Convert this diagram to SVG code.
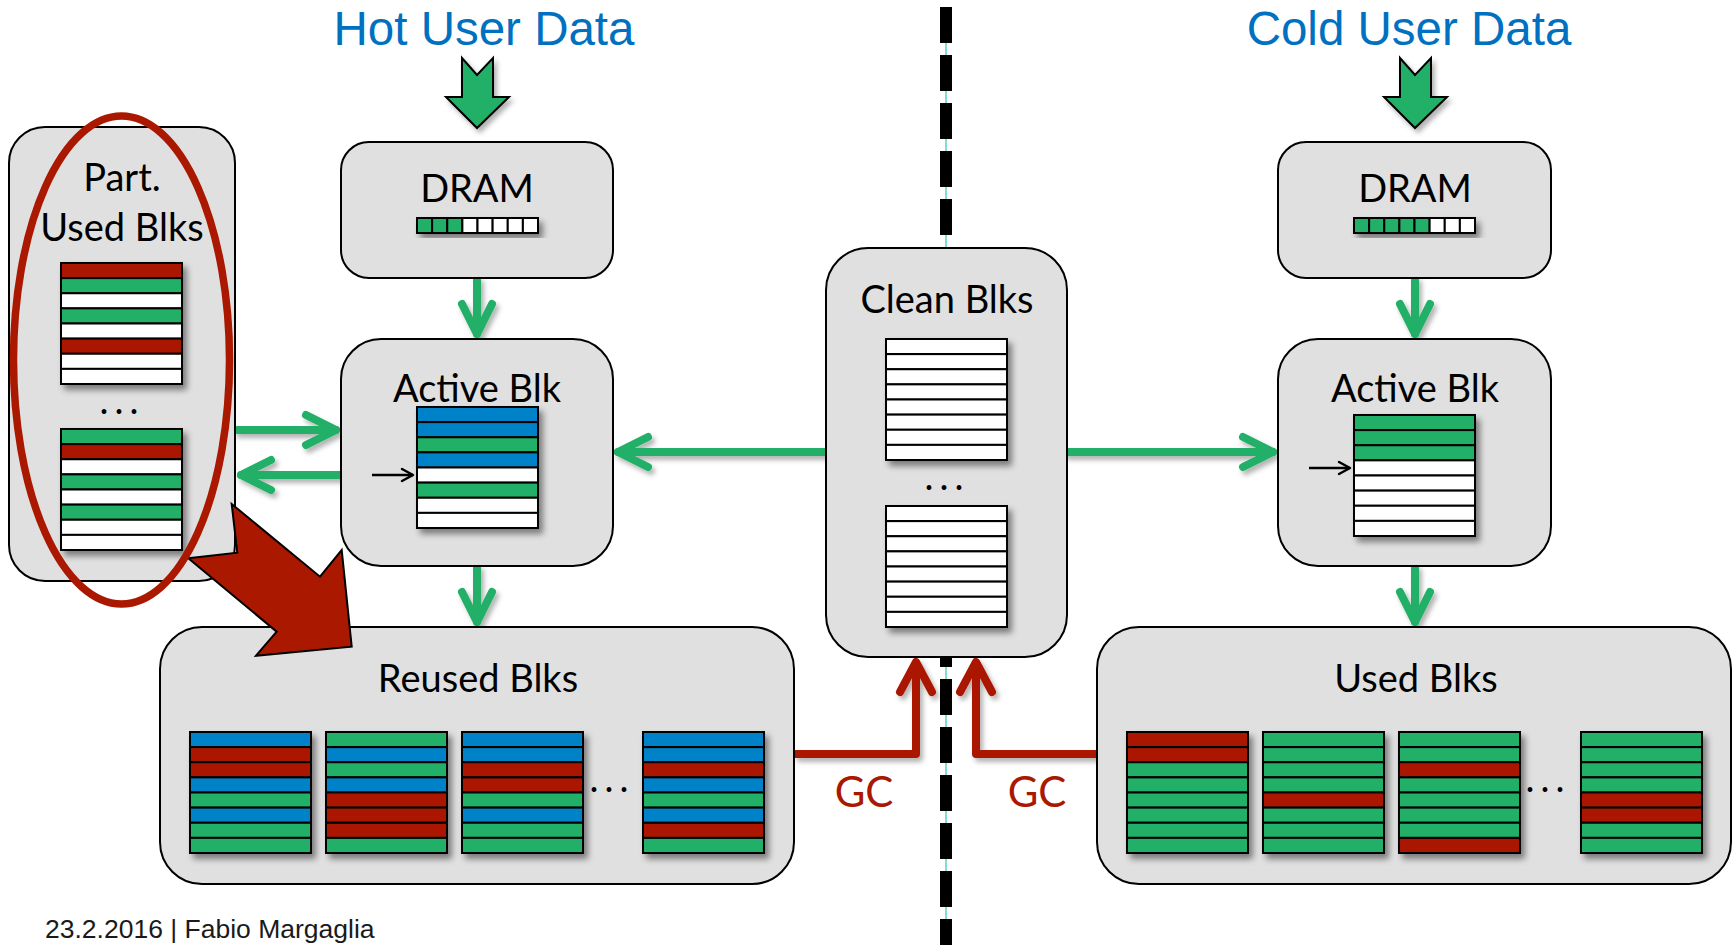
<svg xmlns="http://www.w3.org/2000/svg" width="1734" height="945" viewBox="0 0 1734 945">
<style>
.box{fill:#E0E0E0;stroke:#000;stroke-width:2}
.lbl{font-family:Lato,"Open Sans",sans-serif;font-size:38px;fill:#000;text-anchor:middle}
.ttl{font-family:"Liberation Sans",Arial,sans-serif;font-size:47.5px;fill:#0070C0;text-anchor:middle}
.gc{font-family:Lato,"Open Sans",sans-serif;font-size:42px;fill:#AA1800;text-anchor:middle}
.r{fill:#AA1800;stroke:#000;stroke-width:2}
.g{fill:#22B067;stroke:#000;stroke-width:2}
.b{fill:#0082C8;stroke:#000;stroke-width:2}
.w{fill:#FFFFFF;stroke:#000;stroke-width:2}
.gl{fill:none;stroke:#22B067;stroke-width:8;stroke-linecap:round}
.rl{fill:none;stroke:#AA1800;stroke-width:8;stroke-linejoin:round}
.ptr{fill:none;stroke:#000;stroke-width:2.5}
</style>
<defs>
<filter id="sh" x="-20%" y="-20%" width="150%" height="150%"><feDropShadow dx="4" dy="5" stdDeviation="3" flood-color="#000" flood-opacity="0.45"/></filter>
<filter id="ash" x="-20%" y="-20%" width="150%" height="150%"><feDropShadow dx="3" dy="4" stdDeviation="2.5" flood-color="#000" flood-opacity="0.3"/></filter>
<marker id="ga" markerUnits="userSpaceOnUse" viewBox="-40 -25 50 50" markerWidth="50" markerHeight="50" refX="0" refY="0" orient="auto" overflow="visible"><path d="M-30,-15 L0,0 L-30,15" fill="none" stroke="#22B067" stroke-width="8" stroke-linecap="round" stroke-linejoin="round"/></marker>
<marker id="ra" markerUnits="userSpaceOnUse" viewBox="-40 -25 50 50" markerWidth="50" markerHeight="50" refX="0" refY="0" orient="auto" overflow="visible"><path d="M-30,-16 L0,0 L-30,16" fill="none" stroke="#AA1800" stroke-width="8" stroke-linecap="round" stroke-linejoin="round"/></marker>
<marker id="ka" markerUnits="userSpaceOnUse" viewBox="-15 -10 20 20" markerWidth="20" markerHeight="20" refX="0" refY="0" orient="auto" overflow="visible"><path d="M-11,-6 L0,0 L-11,6" fill="none" stroke="#000" stroke-width="2.5" stroke-linecap="round" stroke-linejoin="round"/></marker>
</defs>
<rect width="1734" height="945" fill="#fff"/>

<g id="divider">
<line x1="946" y1="7" x2="946" y2="945" stroke="#7FE0D2" stroke-width="2"/>
<line x1="946" y1="7" x2="946" y2="945" stroke="#000" stroke-width="12" stroke-dasharray="36 12"/>
</g>

<g id="hot-title"><text class="ttl" x="484" y="45">Hot User Data</text>
<polygon points="462,58 477,75 493,58 493,97 509,97 477,128 446,97 462,97" fill="#22B067" stroke="#000" stroke-width="2" filter="url(#ash)"/></g>
<g id="cold-title"><text class="ttl" x="1409" y="45">Cold User Data</text>
<polygon points="1400,58 1415,75 1431,58 1431,97 1447,97 1415,128 1384,97 1400,97" fill="#22B067" stroke="#000" stroke-width="2" filter="url(#ash)"/></g>

<g id="connectors" filter="url(#ash)">
<line class="gl" x1="237" y1="430" x2="336" y2="430" marker-end="url(#ga)"/>
<line class="gl" x1="340" y1="475" x2="241" y2="475" marker-end="url(#ga)"/>
<line class="gl" x1="825" y1="452" x2="618" y2="452" marker-end="url(#ga)"/>
<line class="gl" x1="1067" y1="452" x2="1273" y2="452" marker-end="url(#ga)"/>
<line class="gl" x1="477" y1="280" x2="477" y2="334" marker-end="url(#ga)"/>
<line class="gl" x1="1415" y1="280" x2="1415" y2="334" marker-end="url(#ga)"/>
<line class="gl" x1="477" y1="568" x2="477" y2="622" marker-end="url(#ga)"/>
<line class="gl" x1="1415" y1="568" x2="1415" y2="622" marker-end="url(#ga)"/>
<path class="rl" d="M794,754 H916 V662" marker-end="url(#ra)"/>
<path class="rl" d="M1097,754 H976 V662" marker-end="url(#ra)"/>
</g>
<text class="gc" x="864" y="807">GC</text>
<text class="gc" x="1037" y="807">GC</text>

<g id="part-used">
<rect class="box" x="9" y="127" width="226" height="454" rx="36"/>
<text class="lbl" x="122" y="191">Part.</text>
<text class="lbl" x="122" y="241">Used Blks</text>
<g transform="translate(61,263)" filter="url(#sh)">
<rect class="r" y="0" width="121" height="15.125"/><rect class="g" y="15.125" width="121" height="15.125"/><rect class="w" y="30.25" width="121" height="15.125"/><rect class="g" y="45.375" width="121" height="15.125"/><rect class="w" y="60.5" width="121" height="15.125"/><rect class="r" y="75.625" width="121" height="15.125"/><rect class="w" y="90.75" width="121" height="15.125"/><rect class="w" y="105.875" width="121" height="15.125"/>
</g>
<text class="lbl" x="122" y="414" letter-spacing="6">...</text>
<g transform="translate(61,429)" filter="url(#sh)">
<rect class="g" y="0" width="121" height="15.125"/><rect class="r" y="15.125" width="121" height="15.125"/><rect class="w" y="30.25" width="121" height="15.125"/><rect class="g" y="45.375" width="121" height="15.125"/><rect class="w" y="60.5" width="121" height="15.125"/><rect class="g" y="75.625" width="121" height="15.125"/><rect class="w" y="90.75" width="121" height="15.125"/><rect class="w" y="105.875" width="121" height="15.125"/>
</g>
</g>

<g id="hot-dram">
<rect class="box" x="341" y="142" width="272" height="136" rx="28"/>
<text class="lbl" x="477" y="202">DRAM</text>
<g transform="translate(417,218)" filter="url(#sh)">
<rect class="g" x="0" width="15.125" height="15"/><rect class="g" x="15.125" width="15.125" height="15"/><rect class="g" x="30.25" width="15.125" height="15"/><rect class="w" x="45.375" width="15.125" height="15"/><rect class="w" x="60.5" width="15.125" height="15"/><rect class="w" x="75.625" width="15.125" height="15"/><rect class="w" x="90.75" width="15.125" height="15"/><rect class="w" x="105.875" width="15.125" height="15"/>
</g>
</g>

<g id="cold-dram">
<rect class="box" x="1278" y="142" width="273" height="136" rx="28"/>
<text class="lbl" x="1415" y="202">DRAM</text>
<g transform="translate(1354,218)" filter="url(#sh)">
<rect class="g" x="0" width="15.125" height="15"/><rect class="g" x="15.125" width="15.125" height="15"/><rect class="g" x="30.25" width="15.125" height="15"/><rect class="g" x="45.375" width="15.125" height="15"/><rect class="g" x="60.5" width="15.125" height="15"/><rect class="w" x="75.625" width="15.125" height="15"/><rect class="w" x="90.75" width="15.125" height="15"/><rect class="w" x="105.875" width="15.125" height="15"/>
</g>
</g>

<g id="hot-active">
<rect class="box" x="341" y="339" width="272" height="227" rx="40"/>
<text class="lbl" x="477" y="402">Active Blk</text>
<g transform="translate(417,407)" filter="url(#sh)">
<rect class="b" y="0" width="121" height="15.125"/><rect class="b" y="15.125" width="121" height="15.125"/><rect class="g" y="30.25" width="121" height="15.125"/><rect class="b" y="45.375" width="121" height="15.125"/><rect class="w" y="60.5" width="121" height="15.125"/><rect class="g" y="75.625" width="121" height="15.125"/><rect class="w" y="90.75" width="121" height="15.125"/><rect class="w" y="105.875" width="121" height="15.125"/>
</g>
<line class="ptr" x1="372" y1="475" x2="413" y2="475" marker-end="url(#ka)"/>
</g>

<g id="cold-active">
<rect class="box" x="1278" y="339" width="273" height="227" rx="40"/>
<text class="lbl" x="1415" y="402">Active Blk</text>
<g transform="translate(1354,415)" filter="url(#sh)">
<rect class="g" y="0" width="121" height="15.125"/><rect class="g" y="15.125" width="121" height="15.125"/><rect class="g" y="30.25" width="121" height="15.125"/><rect class="w" y="45.375" width="121" height="15.125"/><rect class="w" y="60.5" width="121" height="15.125"/><rect class="w" y="75.625" width="121" height="15.125"/><rect class="w" y="90.75" width="121" height="15.125"/><rect class="w" y="105.875" width="121" height="15.125"/>
</g>
<line class="ptr" x1="1309" y1="468" x2="1350" y2="468" marker-end="url(#ka)"/>
</g>

<g id="clean">
<rect class="box" x="826" y="248" width="241" height="409" rx="42"/>
<text class="lbl" x="947" y="313">Clean Blks</text>
<g transform="translate(886,339)" filter="url(#sh)">
<rect class="w" y="0" width="121" height="15.125"/><rect class="w" y="15.125" width="121" height="15.125"/><rect class="w" y="30.25" width="121" height="15.125"/><rect class="w" y="45.375" width="121" height="15.125"/><rect class="w" y="60.5" width="121" height="15.125"/><rect class="w" y="75.625" width="121" height="15.125"/><rect class="w" y="90.75" width="121" height="15.125"/><rect class="w" y="105.875" width="121" height="15.125"/>
</g>
<text class="lbl" x="947" y="490" letter-spacing="6">...</text>
<g transform="translate(886,506)" filter="url(#sh)">
<rect class="w" y="0" width="121" height="15.125"/><rect class="w" y="15.125" width="121" height="15.125"/><rect class="w" y="30.25" width="121" height="15.125"/><rect class="w" y="45.375" width="121" height="15.125"/><rect class="w" y="60.5" width="121" height="15.125"/><rect class="w" y="75.625" width="121" height="15.125"/><rect class="w" y="90.75" width="121" height="15.125"/><rect class="w" y="105.875" width="121" height="15.125"/>
</g>
</g>

<g id="reused">
<rect class="box" x="160" y="627" width="634" height="257" rx="42"/>
<text class="lbl" x="478" y="692">Reused Blks</text>
<g transform="translate(190,732)" filter="url(#sh)">
<rect class="b" y="0" width="121" height="15.125"/><rect class="r" y="15.125" width="121" height="15.125"/><rect class="r" y="30.25" width="121" height="15.125"/><rect class="b" y="45.375" width="121" height="15.125"/><rect class="g" y="60.5" width="121" height="15.125"/><rect class="b" y="75.625" width="121" height="15.125"/><rect class="g" y="90.75" width="121" height="15.125"/><rect class="g" y="105.875" width="121" height="15.125"/>
</g>
<g transform="translate(326,732)" filter="url(#sh)">
<rect class="g" y="0" width="121" height="15.125"/><rect class="b" y="15.125" width="121" height="15.125"/><rect class="g" y="30.25" width="121" height="15.125"/><rect class="b" y="45.375" width="121" height="15.125"/><rect class="r" y="60.5" width="121" height="15.125"/><rect class="r" y="75.625" width="121" height="15.125"/><rect class="r" y="90.75" width="121" height="15.125"/><rect class="g" y="105.875" width="121" height="15.125"/>
</g>
<g transform="translate(462,732)" filter="url(#sh)">
<rect class="b" y="0" width="121" height="15.125"/><rect class="b" y="15.125" width="121" height="15.125"/><rect class="r" y="30.25" width="121" height="15.125"/><rect class="r" y="45.375" width="121" height="15.125"/><rect class="g" y="60.5" width="121" height="15.125"/><rect class="b" y="75.625" width="121" height="15.125"/><rect class="g" y="90.75" width="121" height="15.125"/><rect class="g" y="105.875" width="121" height="15.125"/>
</g>
<text class="lbl" x="612" y="792" letter-spacing="6">...</text>
<g transform="translate(643,732)" filter="url(#sh)">
<rect class="b" y="0" width="121" height="15.125"/><rect class="b" y="15.125" width="121" height="15.125"/><rect class="r" y="30.25" width="121" height="15.125"/><rect class="b" y="45.375" width="121" height="15.125"/><rect class="g" y="60.5" width="121" height="15.125"/><rect class="b" y="75.625" width="121" height="15.125"/><rect class="r" y="90.75" width="121" height="15.125"/><rect class="g" y="105.875" width="121" height="15.125"/>
</g>
</g>

<g id="used">
<rect class="box" x="1097" y="627" width="634" height="257" rx="42"/>
<text class="lbl" x="1416" y="692">Used Blks</text>
<g transform="translate(1127,732)" filter="url(#sh)">
<rect class="r" y="0" width="121" height="15.125"/><rect class="r" y="15.125" width="121" height="15.125"/><rect class="g" y="30.25" width="121" height="15.125"/><rect class="g" y="45.375" width="121" height="15.125"/><rect class="g" y="60.5" width="121" height="15.125"/><rect class="g" y="75.625" width="121" height="15.125"/><rect class="g" y="90.75" width="121" height="15.125"/><rect class="g" y="105.875" width="121" height="15.125"/>
</g>
<g transform="translate(1263,732)" filter="url(#sh)">
<rect class="g" y="0" width="121" height="15.125"/><rect class="g" y="15.125" width="121" height="15.125"/><rect class="g" y="30.25" width="121" height="15.125"/><rect class="g" y="45.375" width="121" height="15.125"/><rect class="r" y="60.5" width="121" height="15.125"/><rect class="g" y="75.625" width="121" height="15.125"/><rect class="g" y="90.75" width="121" height="15.125"/><rect class="g" y="105.875" width="121" height="15.125"/>
</g>
<g transform="translate(1399,732)" filter="url(#sh)">
<rect class="g" y="0" width="121" height="15.125"/><rect class="g" y="15.125" width="121" height="15.125"/><rect class="r" y="30.25" width="121" height="15.125"/><rect class="g" y="45.375" width="121" height="15.125"/><rect class="g" y="60.5" width="121" height="15.125"/><rect class="g" y="75.625" width="121" height="15.125"/><rect class="g" y="90.75" width="121" height="15.125"/><rect class="r" y="105.875" width="121" height="15.125"/>
</g>
<text class="lbl" x="1548" y="792" letter-spacing="6">...</text>
<g transform="translate(1581,732)" filter="url(#sh)">
<rect class="g" y="0" width="121" height="15.125"/><rect class="g" y="15.125" width="121" height="15.125"/><rect class="g" y="30.25" width="121" height="15.125"/><rect class="g" y="45.375" width="121" height="15.125"/><rect class="r" y="60.5" width="121" height="15.125"/><rect class="r" y="75.625" width="121" height="15.125"/><rect class="g" y="90.75" width="121" height="15.125"/><rect class="g" y="105.875" width="121" height="15.125"/>
</g>
</g>

<g id="reuse-arrow">
<polygon points="231.7,504 320,576.7 341.7,550 351.7,646.7 256,655.7 276.7,631.7 188.3,558.3 237.3,552.7" fill="#AA1800" stroke="#000" stroke-width="2" stroke-linejoin="miter"/>
</g>
<g id="highlight">
<ellipse cx="121.5" cy="360" rx="108" ry="244" fill="none" stroke="#AA1800" stroke-width="7.5"/>
</g>

<text x="45" y="938" font-family="'Liberation Sans',Arial,sans-serif" font-size="26.5" fill="#1a1a1a">23.2.2016 | Fabio Margaglia</text>
</svg>
